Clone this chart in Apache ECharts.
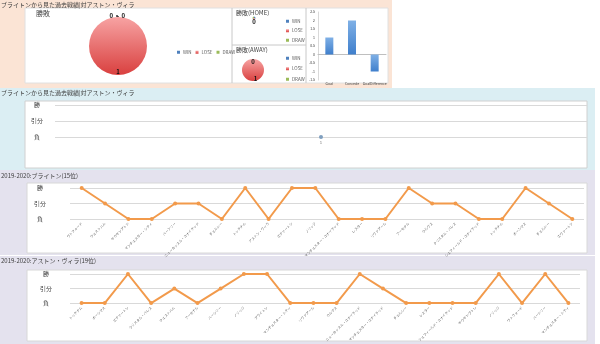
<!DOCTYPE html>
<html><head><meta charset="utf-8">
<script src="https://cdn.jsdelivr.net/npm/echarts@6/dist/echarts.min.js"></script>
<style>html,body{margin:0;padding:0;background:#fff}#c{width:600px;height:344px}</style>
</head><body><div id="c"></div>
<script>
// ---- data ----
const resultNames = ['WIN', 'LOSE', 'DRAW'];
const totalResults = [0, 1, 0];
const homeResults = [0, 0, 0];
const awayResults = [0, 1, 0];
const goalCats = ['Goal', 'Concede', 'GoalDifference'];
const goalValues = [1, 2, -1];
const yLabels = ['負', '引分', '勝'];
const h2hCats = ['1'];
const h2hResults = ['負'];
const brightonOpp = ['ワトフォード', 'ウェストハム', 'サウサンプトン', 'マンチェスター・シティ', 'バーンリー', 'ニューカッスル・ユナイテッド', 'チェルシー', 'トッテナム', 'アストン・ヴィラ', 'エヴァートン', 'ノリッジ', 'マンチェスター・ユナイテッド', 'レスター', 'リヴァプール', 'アーセナル', 'ウルヴス', 'クリスタル・パレス', 'シェフィールド・ユナイテッド', 'トッテナム', 'ボーンマス', 'チェルシー', 'エヴァートン'];
const brightonRes = ['勝', '引分', '負', '負', '引分', '引分', '負', '勝', '負', '勝', '勝', '負', '負', '負', '勝', '引分', '引分', '負', '負', '勝', '引分', '負'];
const villaOpp = ['トッテナム', 'ボーンマス', 'エヴァートン', 'クリスタル・パレス', 'ウェストハム', 'アーセナル', 'バーンリー', 'ノリッジ', 'ブライトン', 'マンチェスター・シティ', 'リヴァプール', 'ウルヴス', 'ニューカッスル・ユナイテッド', 'マンチェスター・ユナイテッド', 'チェルシー', 'レスター', 'シェフィールド・ユナイテッド', 'サウサンプトン', 'ノリッジ', 'ワトフォード', 'バーンリー', 'マンチェスター・シティ'];
const villaRes = ['負', '負', '勝', '負', '引分', '負', '引分', '勝', '勝', '負', '負', '負', '勝', '引分', '負', '負', '負', '負', '勝', '負', '勝', '負'];
const titleTop = 'ブライトンから見た過去戦績|対アストン・ヴィラ';
const titleH2H = 'ブライトンから見た過去戦績|対アストン・ヴィラ';
const titleBrighton = '2019-2020:ブライトン(15位)';
const titleVilla = '2019-2020:アストン・ヴィラ(19位)';

// ---- styling ----
const FONT = '"Noto Sans CJK JP", "Noto Sans", sans-serif';
const winC = '#4f81bd', drawC = '#9bbb59';
const loseGrad = new echarts.graphic.LinearGradient(0, 0, 0, 1, [{offset: 0, color: '#f7a3a3'}, {offset: 1, color: '#d9403f'}]);
const colors = [winC, loseGrad, drawC];
const orange = '#f29a4b';

function pieData(vals, mode) {
  return vals.map((v, i) => {
    const item = {name: resultNames[i], value: v, itemStyle: {color: colors[i]}};
    if (mode === 'main') {
      item.label = v === 0 ? {position: 'outside'} : {position: 'inside'};
      item.labelLine = {show: v === 0, length: 1, length2: 2, lineStyle: {color: '#333'}};
    } else {
      item.label = v === 0 ? {position: 'inside', padding: [0, 0, 4, 0]} : {position: 'inside', padding: [10, 0, 0, 5]};
    }
    return item;
  });
}
const toIdx = arr => arr.map(r => yLabels.indexOf(r));

function lineGrid(left, right, top, bottom) { return {left, right, top, bottom, containLabel: false}; }
function yAx(gi, margin) {
  return {type: 'value', gridIndex: gi, min: 0, max: 2, interval: 1,
    axisLabel: {formatter: v => yLabels[v], align: 'center', margin, fontSize: 6, color: '#404040', fontFamily: FONT},
    splitLine: {lineStyle: {color: '#d9d9d9'}}, axisLine: {show: false}, axisTick: {show: false}};
}
function xAx(gi, cats, rot) {
  return {type: 'category', gridIndex: gi, data: cats, boundaryGap: true,
    axisLine: {show: false}, axisTick: {show: false},
    axisLabel: {interval: 0, rotate: rot, fontSize: 3.4, color: '#595959', margin: 4, fontFamily: FONT}};
}

const chart = echarts.init(document.getElementById('c'), null, {renderer: 'canvas'});
const txt = (x, y, t, size) => ({type: 'text', left: x, top: y, silent: true, style: {text: t, fontSize: size || 6, fill: '#404040', fontFamily: FONT}});
const legendText = {fontSize: 4.5, color: '#595959', padding: [0, 0, 0, -2]};
chart.setOption({
  animation: false,
  textStyle: {fontFamily: FONT},
  graphic: [
    {type: 'rect', shape: {x: 0, y: 0, width: 392, height: 88}, style: {fill: '#fbe4d5'}, silent: true, z: -10},
    {type: 'rect', shape: {x: 0, y: 88, width: 595, height: 82}, style: {fill: '#dbeef3'}, silent: true, z: -10},
    {type: 'rect', shape: {x: 0, y: 170, width: 595, height: 85}, style: {fill: '#e4e2ee'}, silent: true, z: -10},
    {type: 'rect', shape: {x: 0, y: 256, width: 595, height: 88}, style: {fill: '#e4e2ee'}, silent: true, z: -10},
    {type: 'rect', shape: {x: 25, y: 8, width: 363, height: 75}, style: {fill: '#ffffff', stroke: '#e0e0e0'}, silent: true, z: -9},
    {type: 'rect', shape: {x: 25, y: 101, width: 562, height: 67}, style: {fill: '#ffffff', stroke: '#d0d0d0'}, silent: true, z: -9},
    {type: 'rect', shape: {x: 27, y: 183, width: 560, height: 70}, style: {fill: '#ffffff', stroke: '#d8d8d8'}, silent: true, z: -9},
    {type: 'rect', shape: {x: 27, y: 270, width: 560, height: 71}, style: {fill: '#ffffff', stroke: '#d8d8d8'}, silent: true, z: -9},
    {type: 'line', shape: {x1: 232, y1: 8, x2: 232, y2: 83}, style: {stroke: '#c8c8c8'}, silent: true, z: -8},
    {type: 'line', shape: {x1: 232, y1: 45, x2: 306, y2: 45}, style: {stroke: '#c8c8c8'}, silent: true, z: -8},
    {type: 'line', shape: {x1: 306, y1: 8, x2: 306, y2: 83}, style: {stroke: '#c8c8c8'}, silent: true, z: -8},
    txt(1, 2, titleTop), txt(1, 90, titleH2H), txt(1, 173, titleBrighton), txt(1, 258, titleVilla),
    txt(36, 10, '勝敗', 7), txt(236, 10, '勝敗(HOME)', 6), txt(236, 47, '勝敗(AWAY)', 6)
  ],
  legend: [
    {data: resultNames, left: 172, top: 45, orient: 'horizontal', itemWidth: 3, itemHeight: 3, itemGap: 4, icon: 'rect', textStyle: legendText},
    {data: resultNames, left: 281, top: 14, orient: 'vertical', itemWidth: 3, itemHeight: 3, itemGap: 5, icon: 'rect', textStyle: legendText},
    {data: resultNames, left: 281, top: 51, orient: 'vertical', itemWidth: 3, itemHeight: 3, itemGap: 6, icon: 'rect', textStyle: legendText}
  ],
  grid: [
    {left: 318, right: 214, top: 12, bottom: 264},
    lineGrid(55, 13, 105, 207),
    lineGrid(70, 16, 188, 125),
    lineGrid(70, 20, 274, 40)
  ],
  xAxis: [
    {type: 'category', gridIndex: 0, data: goalCats, axisTick: {show: false}, axisLine: {onZero: true, lineStyle: {color: '#bfbfbf'}},
      axisLabel: {fontSize: 3.5, color: '#404040', margin: 2, interval: 0}},
    xAx(1, h2hCats, 0),
    xAx(2, brightonOpp, 45),
    xAx(3, villaOpp, 45)
  ],
  yAxis: [
    {type: 'value', gridIndex: 0, min: -1.5, max: 2.5, interval: 0.5, axisLabel: {fontSize: 3.5, color: '#404040', margin: 3},
      splitLine: {show: false}, axisLine: {show: true, lineStyle: {color: '#d9d9d9'}}, axisTick: {show: false}},
    yAx(1, 18), yAx(2, 30), yAx(3, 24)
  ],
  series: [
    {type: 'pie', name: '勝敗', center: [118, 46], radius: 29, startAngle: 90, data: pieData(totalResults, 'main'),
      avoidLabelOverlap: false,
      labelLayout: p => (p.dataIndex === 0 ? {dx: 2, hideOverlap: false} : p.dataIndex === 2 ? {dx: 14, hideOverlap: false} : {dy: 8}),
      label: {fontSize: 6, color: '#111', fontWeight: 'bold', formatter: '{c}'}, stillShowZeroSum: false},
    {type: 'pie', name: 'HOME', center: [254, 18], radius: 1.5, data: pieData(homeResults, 'small'),
      label: {fontSize: 6, color: '#111', fontWeight: 'bold', position: 'inside', formatter: '{c}'}, stillShowZeroSum: true, itemStyle: {color: '#222'}},
    {type: 'pie', name: 'AWAY', center: [253, 70], radius: 11, startAngle: 90, data: pieData(awayResults, 'small'),
      label: {fontSize: 6, color: '#111', fontWeight: 'bold', formatter: '{c}'}},
    {type: 'bar', xAxisIndex: 0, yAxisIndex: 0, data: goalValues, barWidth: 8,
      itemStyle: {color: new echarts.graphic.LinearGradient(0, 0, 0, 1, [{offset: 0, color: '#7fb0e6'}, {offset: 1, color: '#3f7fcc'}])}},
    {type: 'line', xAxisIndex: 1, yAxisIndex: 1, data: toIdx(h2hResults), symbol: 'circle', symbolSize: 4,
      itemStyle: {color: '#7f9fbf'}, lineStyle: {color: '#7f9fbf'}},
    {type: 'line', xAxisIndex: 2, yAxisIndex: 2, data: toIdx(brightonRes), symbol: 'circle', symbolSize: 4,
      itemStyle: {color: orange}, lineStyle: {color: orange, width: 2}},
    {type: 'line', xAxisIndex: 3, yAxisIndex: 3, data: toIdx(villaRes), symbol: 'circle', symbolSize: 4,
      itemStyle: {color: orange}, lineStyle: {color: orange, width: 2}}
  ]
});
</script></body></html>
